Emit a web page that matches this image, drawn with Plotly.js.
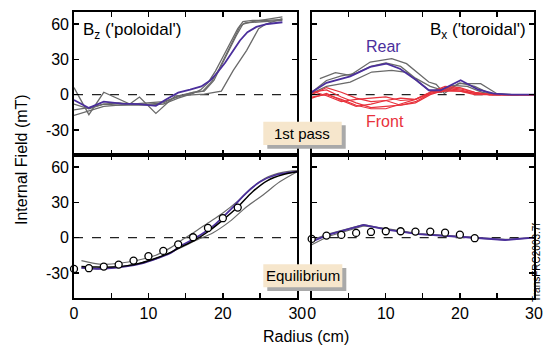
<!DOCTYPE html>
<html>
<head>
<meta charset="utf-8">
<script src="https://cdn.plot.ly/plotly-3.0.1.min.js"></script>
<style>html,body{margin:0;padding:0;background:#fff;}#chart{width:548px;height:348px;}</style>
</head>
<body>
<div id="chart"></div>
<script>
// ---------- Data (radius in cm, field in mT) ----------
// Top-left: B_z, 1st pass
const tlJagR = [0, 2, 4, 7.5, 8.8, 11, 13.6, 15.5, 17.5, 19.8, 21.4, 23.2, 24.8, 25.8, 28];
const tlJagB = [6, -17, 2, -8, -2, -16, -1, 0, 0.5, 3, 20.6, 37.6, 56, 60, 64.5];
const tlGaR = [0, 2, 4, 6, 8, 10, 12, 14, 16, 17, 18, 19, 20, 21, 22, 22.7, 24, 26, 28];
const tlGaB = [-13, -11, -8, -9, -9, -9, -8, -3, 1, 4, 10, 20, 32, 44, 56, 62, 63, 63, 64];
const tlGbR = [0, 2, 4, 6, 8, 10, 12, 14, 16, 17.3, 18.5, 19.5, 20.5, 21.5, 22.3, 23, 26, 28];
const tlGbB = [-17.6, -14, -10, -9, -8, -7, -6, -2, 2, 3, 11, 22, 35, 48, 58, 61, 62, 63];
const tlGcR = [0, 2, 4, 6, 8, 10, 12, 14, 16, 17.5, 18.8, 19.8, 20.8, 21.8, 22.7, 24, 28];
const tlGcB = [-8, -12, -8, -7, -8, -8, -7, -1, 2, 3, 12, 25, 38, 50, 60, 62, 66];
const tlPurR = [0, 2, 4, 6.4, 8.7, 11, 12.3, 14, 15.6, 17.1, 18.3, 19.3, 20.3, 21.3, 22.3, 23.3, 24.5, 26, 28];
const tlPurB = [-4.5, -11.3, -6, -7.7, -8, -9.5, -4.3, 1.7, 4.2, 7, 12, 19, 27, 37, 46, 53, 57.5, 60, 61.5];

// Top-right: B_x, 1st pass (Rear = purple/gray, Front = red)
const trPurR = [0, 2, 5.2, 7.9, 10.1, 11.9, 14.2, 15.8, 17.4, 20.1, 22.5, 24.6, 27, 30];
const trPurB = [2, 10, 15.5, 23.5, 26.3, 22, 12, 3.7, 3.7, 12.2, 4.2, 0.8, 0, 0];
const trG1R = [1.1, 3.2, 5.2, 7.9, 10.8, 12.8, 14.7, 15.8, 16.8, 17.9, 19.8, 22.8, 25, 27, 30];
const trG1B = [13.6, 18.7, 16.4, 27.7, 30.6, 26.3, 16.4, 10.7, 8.7, 1, 9.3, 9.3, 0.8, 0, 0];
const trG2R = [0, 2, 4, 6, 8, 10, 12, 14, 16, 18, 20, 22, 24, 26, 30];
const trG2B = [2, 12, 16, 18, 24, 27, 24, 14, 7, 3, 10, 7, 1, 0, 0];
const trG3R = [0, 2, 5.2, 8.1, 10.8, 12.8, 14.5, 16, 17.5, 18.9, 21, 23, 25, 30];
const trG3B = [1, 7, 10.7, 19.2, 20.6, 19, 10, 3, 2, 7.8, 7, 2, 0, 0];
const trRedR = [0, 2, 4, 6, 8, 10, 12, 14, 16, 18, 20, 22, 24, 30];
const trRed1 = [2, 4, -2, -7, -11, -10, -9, -6, 1, 5, 4, 1, 0, 0];
const trRed2 = [-2, 0, -4, -9, -12, -12, -8, -4, 2, 6, 5, 2, 0, 0];
const trRed3 = [0, 6, 2, -3, -6, -5, -9, -7, 0, 4, 3, 1, 0, 0];
const trRed4 = [3, -1, -6, -4, -3, -2, -5, -4, 2, 7, 6, 2, 0, 0];
const trRed5 = [-3, 1, -5, -10, -8, -5, -3, -4, 1, 3, 3, 0, 0, 0];

// Bottom-left: B_z, equilibrium
const blCircR = [0, 2, 4, 6, 8, 10, 12, 14, 16, 18, 20, 22];
const blCircB = [-26.6, -26, -24.6, -22.9, -19.5, -15.8, -11.3, -5.7, 0.3, 8.2, 16.5, 25.5];
const blBlkR = [1, 3, 5, 7, 9, 11, 13, 14, 16, 18, 20, 22, 24, 26, 28, 30];
const blBlkB = [-24.5, -25, -25, -24, -21.5, -17.5, -12.5, -9, -3, 5, 15, 26, 39, 48.5, 53.5, 56];
const blPurR = [1, 3, 5, 7, 9, 11, 13, 14.2, 16, 18, 19, 21, 23, 25, 27, 30];
const blPurB = [-25.5, -26.5, -26, -24.5, -22, -18, -13, -7.5, -1.5, 6.5, 11.5, 23.5, 37, 47.5, 53, 56];
const blG1R = [1, 4, 8.7, 11, 13, 14, 16, 18, 20, 22, 24, 26, 28, 30];
const blG1B = [-19.5, -22.7, -19, -15, -8.5, -4, 4, 12.5, 21, 31, 43, 51.5, 55.5, 57];
const blG2R = [1, 4, 8, 11, 14.2, 16.5, 18.7, 20.9, 23.2, 25.4, 27.7, 30];
const blG2B = [-26, -26.5, -23, -18, -9, -2, 4.2, 13.6, 26.3, 36.3, 47.6, 56];

// Bottom-right: B_x, equilibrium
const brCircR = [0, 2, 4, 6, 8, 10, 12, 14, 16, 18, 20, 22];
const brCircB = [-1.1, 1.7, 2.3, 4, 4.8, 5.4, 5.4, 5.1, 5.1, 4.2, 2.5, -0.5];
const brLineR = [0, 2.2, 7, 10.3, 14.4, 18.4, 22.4, 26.1, 30];
const brPurB = [-3.4, 2.3, 10.8, 6.5, 2.9, 1, -0.3, -2, 0];
const brG1B = [-6, 1, 10, 7.5, 3.5, 1.5, 0, -1.5, 0];
const brG2B = [-2, 3, 11, 7, 3, 1, -0.5, -2, 0];

const xTickVals = [0, 10, 20, 30];
const xTickText = ['0', '10', '20', '30'];
const xMinorVals = [5, 15, 25];
const yTickVals = [-30, 0, 30, 60];
const yTickText = ['-30', '0', '30', '60'];

// ---------- Styles ----------
const FONT = 'Liberation Sans, Arial, Helvetica, sans-serif';
const GRAY = '#6a6a6a', PURPLE = '#4b2f9c', RED = '#e8323c';

function ln(x, y, color, width, xa, ya, shape) {
  return {x: x, y: y, type: 'scatter', mode: 'lines', xaxis: xa, yaxis: ya,
    line: {color: color, width: width, shape: shape || 'linear'}, hoverinfo: 'skip', showlegend: false};
}
function circ(x, y, xa, ya) {
  return {x: x, y: y, type: 'scatter', mode: 'markers', xaxis: xa, yaxis: ya, cliponaxis: false,
    marker: {symbol: 'circle', size: 7, color: '#fff', line: {color: '#000', width: 1.3}},
    hoverinfo: 'skip', showlegend: false};
}

const traces = [
  // TL
  ln(tlJagR, tlJagB, GRAY, 1.3, 'x', 'y'),
  ln(tlGaR, tlGaB, GRAY, 1.3, 'x', 'y'),
  ln(tlGbR, tlGbB, GRAY, 1.3, 'x', 'y'),
  ln(tlGcR, tlGcB, GRAY, 1.3, 'x', 'y'),
  ln(tlPurR, tlPurB, PURPLE, 1.8, 'x', 'y'),
  // TR
  ln(trG1R, trG1B, GRAY, 1.3, 'x2', 'y2'),
  ln(trG2R, trG2B, GRAY, 1.3, 'x2', 'y2'),
  ln(trG3R, trG3B, GRAY, 1.3, 'x2', 'y2'),
  ln(trRedR, trRed1, RED, 1.2, 'x2', 'y2'),
  ln(trRedR, trRed2, RED, 1.2, 'x2', 'y2'),
  ln(trRedR, trRed3, RED, 1.2, 'x2', 'y2'),
  ln(trRedR, trRed4, RED, 1.2, 'x2', 'y2'),
  ln(trRedR, trRed5, RED, 1.2, 'x2', 'y2'),
  ln(trPurR, trPurB, PURPLE, 1.8, 'x2', 'y2'),
  // BL
  ln(blG1R, blG1B, GRAY, 1.2, 'x3', 'y3', 'spline'),
  ln(blG2R, blG2B, GRAY, 1.2, 'x3', 'y3', 'spline'),
  ln(blPurR, blPurB, PURPLE, 1.8, 'x3', 'y3', 'spline'),
  ln(blBlkR, blBlkB, '#000', 1.5, 'x3', 'y3', 'spline'),
  circ(blCircR, blCircB, 'x3', 'y3'),
  // BR
  ln(brLineR, brG1B, GRAY, 1.2, 'x4', 'y4'),
  ln(brLineR, brG2B, GRAY, 1.2, 'x4', 'y4'),
  ln(brLineR, brPurB, PURPLE, 1.8, 'x4', 'y4'),
  circ(brCircR, brCircB, 'x4', 'y4')
];

function xax(domain, anchor, labels) {
  return {domain: domain, anchor: anchor, range: [0, 30], tickmode: 'array', tickvals: xTickVals, ticktext: xTickText,
    minor: {tickmode: 'array', tickvals: xMinorVals, ticks: 'inside', ticklen: 5, tickwidth: 1.3, tickcolor: '#000', showgrid: false},
    showticklabels: labels, ticks: 'inside', ticklen: 5, tickwidth: 1.3, tickcolor: '#000',
    showline: true, mirror: 'ticks', linecolor: '#000', linewidth: 1.8,
    showgrid: false, zeroline: false, tickfont: {family: FONT, size: 16, color: '#000'}, fixedrange: true};
}
function yax(domain, anchor, labels) {
  return {domain: domain, anchor: anchor, range: [-51.3, 70.2], tickmode: 'array', tickvals: yTickVals, ticktext: yTickText,
    showticklabels: labels, ticks: 'inside', ticklen: 5, tickwidth: 1.3, tickcolor: '#000',
    showline: true, mirror: 'ticks', linecolor: '#000', linewidth: 1.8,
    showgrid: false, zeroline: false, tickfont: {family: FONT, size: 16, color: '#000'}, fixedrange: true};
}

const LX = [0, 0.4854], RX = [0.5167, 1], TY = [0.5, 1], BY = [0, 0.5];

function zeroLine(xr, yr) {
  return {type: 'line', xref: xr, yref: yr, x0: 0, x1: 30, y0: 0, y1: 0, layer: 'below',
    line: {color: '#222', width: 1.3, dash: 'dash'}};
}
function rect(x0, x1, y0, y1, fill) {
  return {type: 'rect', xref: 'paper', yref: 'paper', x0: x0, x1: x1, y0: y0, y1: y1,
    layer: 'above', fillcolor: fill, line: {width: 0}};
}

const layout = {
  width: 548, height: 348,
  margin: {l: 74, r: 14, t: 12, b: 50},
  paper_bgcolor: '#fff', plot_bgcolor: '#fff',
  font: {family: FONT, color: '#000'},
  showlegend: false,
  xaxis: xax(LX, 'y', false), yaxis: yax(TY, 'x', true),
  xaxis2: xax(RX, 'y2', false), yaxis2: yax(TY, 'x2', false),
  xaxis3: xax(LX, 'y3', true), yaxis3: yax(BY, 'x3', true),
  xaxis4: xax(RX, 'y4', true), yaxis4: yax(BY, 'x4', false),
  shapes: [
    zeroLine('x', 'y'), zeroLine('x2', 'y2'), zeroLine('x3', 'y3'), zeroLine('x4', 'y4'),
    rect(0.4202, 0.5907, 0.522, 0.6042, '#a9a9a9'),
    rect(0.4115, 0.582, 0.535, 0.6164, '#f6e6cc'),
    rect(0.4202, 0.592, 0.0245, 0.1049, '#a9a9a9'),
    rect(0.4115, 0.5833, 0.0374, 0.1178, '#f6e6cc')
  ],
  annotations: [
    {text: "B<sub>z</sub> ('poloidal')", xref: 'paper', yref: 'paper', x: 0.0152, y: 0.9336,
      xanchor: 'left', yanchor: 'middle', showarrow: false, font: {size: 17, family: FONT, color: '#000'}},
    {text: "B<sub>x</sub> ('toroidal')", xref: 'paper', yref: 'paper', x: 0.987, y: 0.9336,
      xanchor: 'right', yanchor: 'middle', showarrow: false, font: {size: 17, family: FONT, color: '#000'}},
    {text: 'Rear', xref: 'paper', yref: 'paper', x: 0.6728, y: 0.8811,
      xanchor: 'center', yanchor: 'middle', showarrow: false, font: {size: 16, family: FONT, color: PURPLE}},
    {text: 'Front', xref: 'paper', yref: 'paper', x: 0.676, y: 0.6154,
      xanchor: 'center', yanchor: 'middle', showarrow: false, font: {size: 16, family: FONT, color: RED}},
    {text: '1st pass', xref: 'paper', yref: 'paper', x: 0.4967, y: 0.5759,
      xanchor: 'center', yanchor: 'middle', showarrow: false, font: {size: 15, family: FONT, color: '#000'}},
    {text: 'Equilibrium', xref: 'paper', yref: 'paper', x: 0.4974, y: 0.0776,
      xanchor: 'center', yanchor: 'middle', showarrow: false, font: {size: 15, family: FONT, color: '#000'}},
    {text: 'TransFRC2003.7f', xref: 'paper', yref: 'paper', x: 1.0065, y: 0.1259, textangle: -90,
      xanchor: 'center', yanchor: 'middle', showarrow: false, font: {size: 10, family: FONT, color: '#000'}},
    {text: 'Internal Field (mT)', xref: 'paper', yref: 'paper', x: -0.1152, y: 0.4825, textangle: -90,
      xanchor: 'center', yanchor: 'middle', showarrow: false, font: {size: 16, family: FONT, color: '#000'}},
    {text: 'Radius (cm)', xref: 'paper', yref: 'paper', x: 0.5043, y: -0.1329,
      xanchor: 'center', yanchor: 'middle', showarrow: false, font: {size: 16, family: FONT, color: '#000'}}
  ]
};

Plotly.newPlot('chart', traces, layout, {staticPlot: true, displayModeBar: false});
</script>
</body>
</html>
